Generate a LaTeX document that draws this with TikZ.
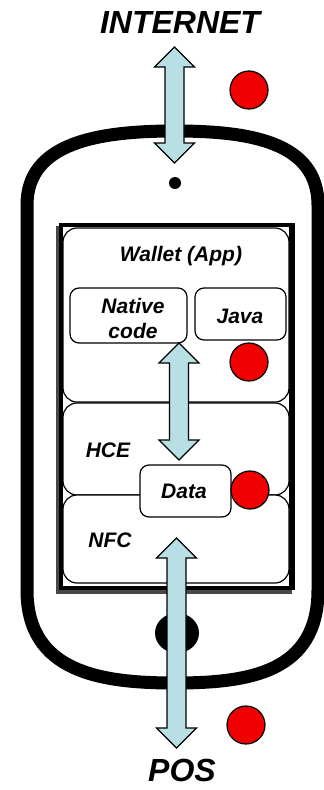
\documentclass[tikz,border=0pt]{standalone}
\usepackage{fontspec}
\setmainfont{Liberation Sans}
\usetikzlibrary{calc}
\definecolor{arrowblue}{RGB}{184,223,227}
\definecolor{dotred}{RGB}{240,0,0}
\definecolor{shadowgray}{RGB}{77,70,70}

% fat double arrow between two points above each other
\newcommand{\fatarrow}[2]{%
\draw[bigarrow] let \p1=(#1), \p2=(#2) in
  (\x1,\y1) -- ({\x1+20pt},{\y1-20pt}) -- ({\x1+9.5pt},{\y1-20pt})
  -- ({\x1+9.5pt},{\y2+20pt}) -- ({\x1+20pt},{\y2+20pt}) -- (\x1,\y2)
  -- ({\x1-20pt},{\y2+20pt}) -- ({\x1-9.5pt},{\y2+20pt})
  -- ({\x1-9.5pt},{\y1-20pt}) -- ({\x1-20pt},{\y1-20pt}) -- cycle;}

\begin{document}
\begin{tikzpicture}[x=1pt,y=-1pt,
  box/.style={draw,rounded corners=14pt,fill=white,line width=1.2pt,inner sep=0,outer sep=0},
  smallbox/.style={box,rounded corners=9pt},
  txt/.style={font=\fontsize{21}{25}\selectfont\bfseries\itshape,inner sep=0,align=center},
  bigtxt/.style={font=\fontsize{32}{38}\selectfont\bfseries\itshape,inner sep=0},
  dot/.style={circle,draw,fill=dotred,line width=1.2pt,minimum size=38pt,inner sep=0},
  bigarrow/.style={draw,fill=arrowblue,line width=1.2pt,line join=miter}]
\useasboundingbox (0,0) rectangle (324,790);

% phone body
\draw[line width=13pt] (27,205) -- (27,590) .. controls (27,672) and (100,683) .. (175,683)
  .. controls (250,683) and (318,672) .. (318,590) -- (318,205)
  .. controls (318,142) and (250,131) .. (175,131) .. controls (100,131) and (27,142) .. (27,205) -- cycle;
\node[circle,fill,minimum size=12pt,inner sep=0] (speaker) at (175,183) {};
\fill (177,633) ellipse (22pt and 20pt);
\coordinate (home) at (177,633);

% screen
\fill[shadowgray] (56,226) rectangle (292,594);
\fill (59,223) rectangle (295,590);
\fill[white] (63,227) rectangle (289,586);

\node[box,minimum width=226pt,minimum height=174pt] (wallet) at (176,315) {};
\node[box,minimum width=226pt,minimum height=92pt] (hce) at (176,449) {};
\node[box,minimum width=226pt,minimum height=88pt] (nfc) at (176,539) {};
\node[txt,anchor=base] (wallet-l) at (181,261) {Wallet (App)};
\node[txt,anchor=base] (hce-l) at (108,457) {HCE};
\node[txt,anchor=base] (nfc-l) at (110,547) {NFC};

\node[smallbox,minimum width=117pt,minimum height=55pt] (native) at (128.5,315.5) {};
\node[txt] (native-l) at (133,318) {Native\\code};
\node[smallbox,minimum width=91pt,minimum height=52pt] (java) at (240.5,314) {};
\node[txt] (java-l) at (240,316) {Java};
\node[smallbox,minimum width=91pt,minimum height=52pt] (data) at (185.5,491) {};
\node[txt,anchor=base] (data-l) at (184,498) {Data};

% outside
\node[bigtxt,anchor=base] (internet) at (180,33) {INTERNET};
\node[bigtxt,anchor=base] (pos) at (182,781) {POS};

\coordinate (net-a) at (174.5,47);
\coordinate (net-b) at (174.5,163);
\coordinate (app-a) at (179,343);
\coordinate (app-b) at (179,460);
\coordinate (pos-a) at (176.5,538);
\coordinate (pos-b) at (176.5,748);
\fatarrow{net-a}{net-b}
\fatarrow{app-a}{app-b}
\fatarrow{pos-a}{pos-b}

\node[dot] (d1) at (249,90) {};
\node[dot] (d2) at (249,362) {};
\node[dot] (d3) at (250,490) {};
\node[dot] (d4) at (246,725) {};
\end{tikzpicture}
\end{document}
